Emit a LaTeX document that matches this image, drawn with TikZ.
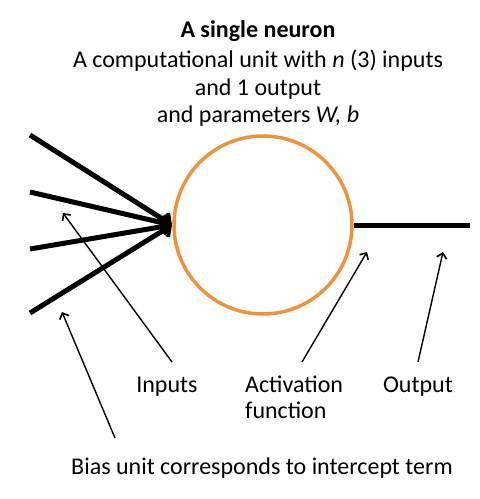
\documentclass[tikz,border=0pt]{standalone}
\usepackage{fontspec}
\setmainfont{Carlito}
\usetikzlibrary{arrows.meta}
\definecolor{neuronorange}{RGB}{240,145,60}
\begin{document}
\begin{tikzpicture}[x=1pt,y=-1pt,
  txt/.style={anchor=base,inner sep=0pt,font=\fontsize{24}{26}\selectfont},
  thickarrow/.style={line width=5pt,-{Straight Barb[length=7pt,width=16pt,line width=4pt]}},
  thinarrow/.style={line width=1.4pt,-{Straight Barb[length=5pt,width=10pt,line width=1.6pt]}}]
\useasboundingbox (0,0) rectangle (480,499);
% title
\node[txt,font=\fontsize{24}{26}\selectfont\bfseries] (title) at (258,37) {A single neuron};
\node[txt] (l2) at (258,67) {A computational unit with \emph{n} (3) inputs};
\node[txt] (l3) at (258,95) {and 1 output};
\node[txt] (l4) at (258,122) {and parameters \emph{W, b}};
% neuron
\node[circle,draw=neuronorange,line width=3.5pt,minimum size=178pt,inner sep=0pt] (neuron) at (263,225) {};
\coordinate (tip) at (172,225);
\coordinate (in1) at (30,135);
\coordinate (in2) at (30,192);
\coordinate (in3) at (30,249);
\coordinate (in4) at (30,313);
\coordinate (outend) at (470,225);
\draw[thickarrow] (in1) -- (tip);
\draw[thickarrow] (in2) -- (tip);
\draw[thickarrow] (in3) -- (tip);
\draw[thickarrow] (in4) -- (tip);
\draw[line width=5pt] (neuron.east) -- (outend);
% labels
\node[txt] (inputs) at (167,392) {Inputs};
\node[txt,anchor=base west] (act) at (245,392) {\begin{tabular}[t]{@{}l@{}}Activation\\function\end{tabular}};
\node[txt] (output) at (418,392) {Output};
\node[txt] (bias) at (262,474) {Bias unit corresponds to intercept term};
% pointer arrows
\coordinate (pin) at (63,213);
\coordinate (pbias) at (62,312);
\coordinate (pact) at (367,252);
\coordinate (pout) at (443,252);
\draw[thinarrow] (172,362) -- (pin);
\draw[thinarrow] (115,438) -- (pbias);
\draw[thinarrow] (302,362) -- (pact);
\draw[thinarrow] (418,362) -- (pout);
\end{tikzpicture}
\end{document}
